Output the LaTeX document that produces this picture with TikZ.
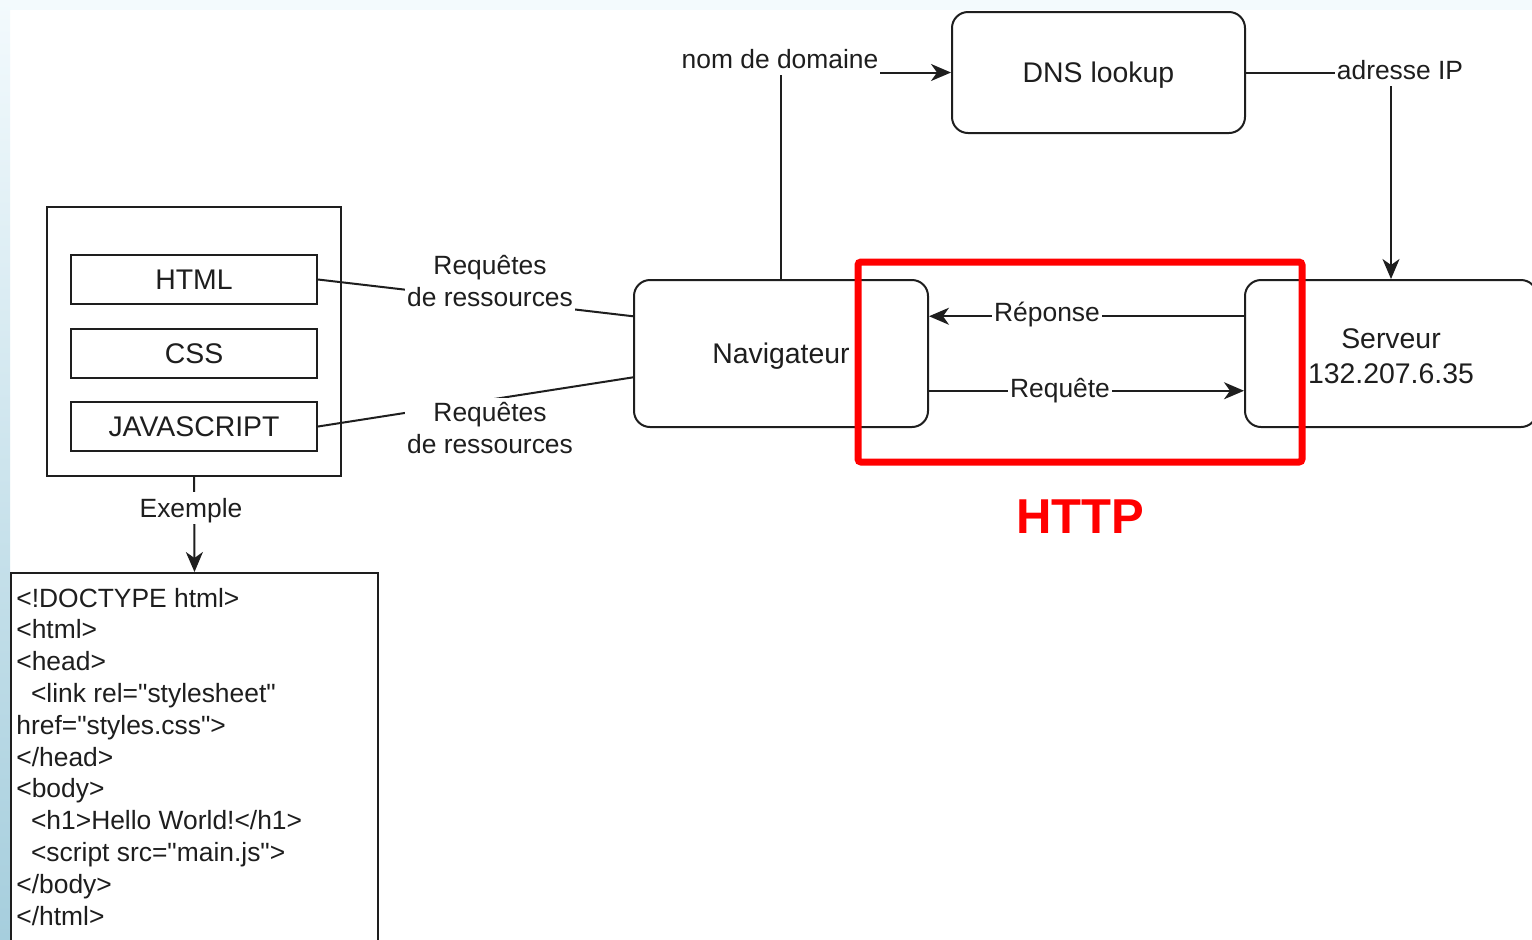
\documentclass[tikz,border=0pt]{standalone}
\usepackage{fontspec}
\setmainfont{Liberation Sans}
% plain family without TeX ligatures, so that " stays a straight quote
\newfontfamily\codefont{Liberation Sans}
\usetikzlibrary{arrows.meta,calc}
\definecolor{ink}{HTML}{1E1E1E}
\definecolor{edgetop}{HTML}{F3FAFD}
\definecolor{edgebot}{HTML}{A6CEDD}
\definecolor{httpred}{HTML}{FF0000}
\tikzset{
  box/.style={draw=ink, line width=1pt, fill=white, text=ink,
    font=\fontsize{14.2}{17}\selectfont, inner sep=0pt},
  oneline/.style={text height=12.8pt, text depth=3pt},
  roundbox/.style={box, rounded corners=8pt},
  lbl/.style={fill=white, text=ink, inner xsep=1pt, inner ysep=2pt,
    font=\fontsize{13.2}{16}\selectfont, align=center},
  lblone/.style={lbl, text height=11.9pt, text depth=2.8pt, inner ysep=0.5pt},
  codeline/.style={anchor=base west, inner sep=0pt, text=ink,
    font=\codefont\fontsize{13.2}{16}\selectfont},
  link/.style={draw=ink, line width=1pt},
  arrow/.style={link, -{Stealth[length=10pt,width=8.5pt,inset=3pt]}},
}
\begin{document}
\begin{tikzpicture}[x=0.5pt,y=-0.5pt]
\useasboundingbox (0,0) rectangle (1532,939);
% page frame
\fill[white] (0,0) rectangle (1532,939);
\fill[edgetop] (0,0) rectangle (1532,10);
\shade[top color=edgetop, bottom color=edgebot] (0,0) rectangle (10,939);

% resource group
\node[box, minimum width=147pt, minimum height=134.5pt] (group) at (194,341.5) {};
\node[box, oneline, minimum width=123pt, minimum height=24.5pt] (html) at (194,279.5) {HTML};
\node[box, oneline, minimum width=123pt, minimum height=24.5pt] (css) at (194,353.5) {CSS};
\node[box, oneline, minimum width=123pt, minimum height=24.5pt] (js) at (194,426.5) {JAVASCRIPT};

% example source
\node[box, minimum width=183.5pt, minimum height=200pt] (code) at (194.5,773) {};
\foreach \t [count=\k from 0] in {
  {<!DOCTYPE html>},
  {<html>},
  {<head>},
  {\ \ <link rel="stylesheet"},
  {href="styles.css">},
  {</head>},
  {<body>},
  {\ \ <h1>Hello World!</h1>},
  {\ \ <script src="main.js">},
  {</body>},
  {</html>}}
  \node[codeline] (codeline\k) at (16,{607+31.8*\k}) {\t};

% main boxes
\node[roundbox, oneline, minimum width=146.5pt, minimum height=60.5pt] (dns) at (1098.5,72.5) {DNS lookup};
\node[roundbox, oneline, minimum width=147pt, minimum height=73.5pt] (nav) at (781,353.5) {Navigateur};
\node[roundbox, minimum width=146pt, minimum height=73.5pt] (serv) at (1391,353.5) {};
\node[text=ink, font=\fontsize{14.2}{17}\selectfont, align=center, inner sep=0pt]
  (servtext) at ([yshift=-1.5pt]serv.center) {Serveur\\[0.5pt]132.207.6.35};

% connectors
\draw[link] (html.east) -- ($(nav.north west)!0.25!(nav.south west)$);
\draw[link] (js.east) -- ($(nav.north west)!0.66!(nav.south west)$);
\draw[arrow] (group.south) -- (code.north);
\draw[arrow] (nav.north) |- (dns.west);
\draw[arrow] (dns.east) -| (serv.north);
\draw[arrow] ($(serv.north west)!0.25!(serv.south west)$) -- ($(nav.north east)!0.25!(nav.south east)$);
\draw[arrow] ($(nav.north east)!0.75!(nav.south east)$) -- ($(serv.north west)!0.75!(serv.south west)$);

% connector labels
\node[lbl] (lhtml) at (490,281) {Requêtes\\de ressources};
\node[lbl] (ljs) at (490,428) {Requêtes\\de ressources};
\node[lblone] (lex) at (191,508) {Exemple};
\node[lblone] (ldom) at (780,59) {nom de domaine};
\node[lblone] (lip) at (1400,70) {adresse IP};
\node[lblone] (lrep) at (1047,312) {Réponse};
\node[lblone] (lreq) at (1060,388) {Requête};

% HTTP exchange highlight
\node[draw=httpred, line width=3.5pt, rounded corners=1.5pt,
  minimum width=222pt, minimum height=100pt, inner sep=0pt] (http) at (1080,362) {};
\node[text=httpred, font=\fontsize{24.5}{28}\selectfont\bfseries] (httplbl) at (1080,517) {HTTP};
\end{tikzpicture}
\end{document}
